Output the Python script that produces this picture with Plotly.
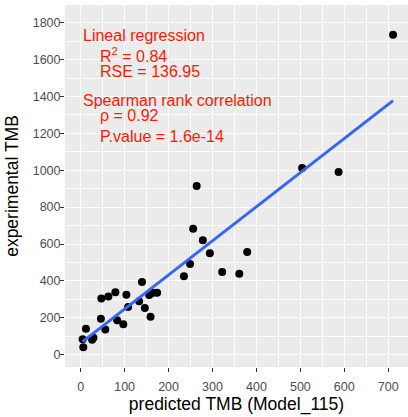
import numpy as np
import plotly.graph_objects as go

pred_tmb = [264, 504, 587, 256, 278, 294, 379, 249, 235, 322, 361, 139.5, 79, 63, 47,
            104, 156, 165, 174, 133, 108, 146, 159, 46, 83, 97, 56, 12, 29, 26, 4.5, 6, 711]
exp_tmb = [915, 1012, 991, 683, 620, 550, 557, 492, 425, 448, 438, 394, 338, 315, 304,
           325, 324, 336, 336, 289, 259, 253, 206, 195, 187, 165, 136, 141, 91, 81, 83, 40, 1734]

x_ticks = [0, 100, 200, 300, 400, 500, 600, 700]
y_ticks = [0, 200, 400, 600, 800, 1000, 1200, 1400, 1600, 1800]

ann_lines = [
    ("Lineal regression", 0, 1731),
    ("R<sup>2</sup> = 0.84", 40, 1627),
    ("RSE = 136.95", 40, 1533),
    ("Spearman rank correlation", 0, 1378),
    ("\u03c1 = 0.92", 40, 1298),
    ("P.value = 1.6e-14", 40, 1181),
]

xa = np.array(pred_tmb, dtype=float)
ya = np.array(exp_tmb, dtype=float)
slope, intercept = np.polyfit(xa, ya, 1)
xl = np.array([xa.min(), xa.max()])
yl = slope * xl + intercept

fig = go.Figure()
fig.add_trace(go.Scatter(x=pred_tmb, y=exp_tmb, mode="markers",
                         marker=dict(color="black", size=8), showlegend=False))
fig.add_trace(go.Scatter(x=xl, y=yl, mode="lines",
                         line=dict(color="#3366FF", width=3), showlegend=False))

for txt, x, y in ann_lines:
    fig.add_annotation(x=x, y=y, text=txt, showarrow=False, xanchor="left", yanchor="middle",
                       font=dict(color="#FF1A00", size=16, family="Liberation Sans"))

axis_common = dict(
    showgrid=True, gridcolor="white", gridwidth=1.1,
    zeroline=False, showline=False,
    ticks="outside", ticklen=4, tickcolor="#333333", tickwidth=1,
    tickfont=dict(size=12.5, color="#4D4D4D", family="Liberation Sans"),
)

fig.update_layout(
    width=408, height=417,
    margin=dict(l=65, r=0, t=5, b=50),
    plot_bgcolor="#EBEBEB", paper_bgcolor="white",
    font=dict(family="Liberation Sans"),
    xaxis=dict(range=[-35.7, 745], tickvals=x_ticks, ticklabelstandoff=4,
               minor=dict(showgrid=True, gridcolor="white", gridwidth=0.5, dtick=50, tick0=50),
               title=dict(text="predicted TMB (Model_115)", font=dict(size=17.5, color="black"), standoff=2),
               **axis_common),
    yaxis=dict(range=[-67, 1896], tickvals=y_ticks, ticklabelstandoff=-3,
               minor=dict(showgrid=True, gridcolor="white", gridwidth=0.5, dtick=100, tick0=100),
               title=dict(text="experimental TMB", font=dict(size=17.5, color="black"), standoff=9),
               **axis_common),
)

fig.write_html("out.html")
